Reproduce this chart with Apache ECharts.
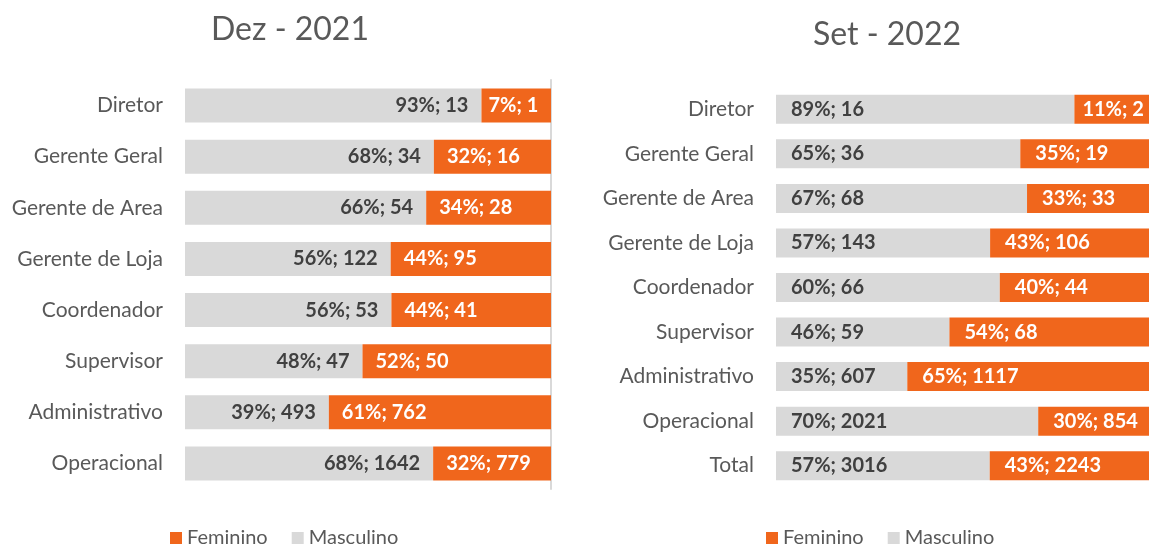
<!DOCTYPE html>
<html>
<head>
<meta charset="utf-8">
<script src="https://cdn.jsdelivr.net/npm/echarts@6/dist/echarts.min.js"></script>
<style>
    html, body { margin: 0; padding: 0; background: #fff; }
    #main { width: 1149px; height: 546px; }
</style>
</head>
<body>
<div id="main"></div>
<script>
/// DATA ///

// Dez - 2021
var cats2021 = ['Diretor', 'Gerente Geral', 'Gerente de Area', 'Gerente de Loja', 'Coordenador', 'Supervisor', 'Administrativo', 'Operacional'];
// bar widths (share of row, %) as drawn
var masc2021 = [81, 68.0, 65.9, 56.2, 56.4, 48.5, 39.3, 67.8];
var fem2021 = [19, 32.0, 34.1, 43.8, 43.6, 51.5, 60.7, 32.2];
// label texts
var mascPct2021 = [93, 68, 66, 56, 56, 48, 39, 68];
var mascN2021 = [13, 34, 54, 122, 53, 47, 493, 1642];
var femPct2021 = [7, 32, 34, 44, 44, 52, 61, 32];
var femN2021 = [1, 16, 28, 95, 41, 50, 762, 779];

// Set - 2022
var cats2022 = ['Diretor', 'Gerente Geral', 'Gerente de Area', 'Gerente de Loja', 'Coordenador', 'Supervisor', 'Administrativo', 'Operacional', 'Total'];
var masc2022 = [80, 65.5, 67.3, 57.4, 60.0, 46.5, 35.2, 70.3, 57.3];
var fem2022 = [20, 34.5, 32.7, 42.6, 40.0, 53.5, 64.8, 29.7, 42.7];
var mascPct2022 = [89, 65, 67, 57, 60, 46, 35, 70, 57];
var mascN2022 = [16, 36, 68, 143, 66, 59, 607, 2021, 3016];
var femPct2022 = [11, 35, 33, 43, 40, 54, 65, 30, 43];
var femN2022 = [2, 19, 33, 106, 44, 68, 1117, 854, 2243];

var ORANGE = '#F0661C';
var GREY = '#D9D9D9';
var FONT = 'Lato, "Open Sans", sans-serif';

// builds "93%; 13" style labels
function labelFn(pcts, counts) {
    return function (p) {
        return pcts[p.dataIndex] + '%; ' + counts[p.dataIndex];
    };
}

// small first (Diretor) segment gets its label pulled closer to the edge
function tightFirst(values, dist) {
    return values.map(function (v, i) {
        return i === 0 ? { value: v, label: { distance: dist } } : v;
    });
}

function catAxis(gridIndex, data) {
    return {
        type: 'category',
        gridIndex: gridIndex,
        data: data,
        inverse: true,
        axisLine: { show: false },
        axisTick: { show: false },
        axisLabel: {
            margin: 22,
            fontFamily: FONT,
            fontSize: 21,
            color: '#595959'
        }
    };
}

function valAxis(gridIndex) {
    return {
        type: 'value',
        gridIndex: gridIndex,
        min: 0,
        max: 100,
        show: false
    };
}

function barSeries(name, xi, yi, values, color, width, pos, dist, labelColor, fmt) {
    return {
        name: name,
        type: 'bar',
        xAxisIndex: xi,
        yAxisIndex: yi,
        stack: 'g' + xi,
        data: values,
        barWidth: width,
        itemStyle: { color: color },
        label: {
            show: true,
            position: pos,
            distance: dist,
            formatter: fmt,
            fontFamily: FONT,
            fontWeight: 'bold',
            fontSize: 20,
            color: labelColor
        },
        emphasis: { disabled: true },
        animation: false
    };
}

var chart = echarts.init(document.getElementById('main'));

var legendBase = {
    data: ['Feminino', 'Masculino'],
    icon: 'rect',
    itemWidth: 12,
    itemHeight: 12,
    itemGap: 24,
    top: 523,
    textStyle: { fontFamily: FONT, fontSize: 20, color: '#595959' }
};

var options = {
    title: [
        {
            text: 'Dez - 2021', left: 285, top: 9, textAlign: 'center',
            textStyle: { fontFamily: FONT, fontWeight: 'normal', fontSize: 32, color: '#595959' }
        },
        {
            text: 'Set - 2022', left: 882, top: 14, textAlign: 'center',
            textStyle: { fontFamily: FONT, fontWeight: 'normal', fontSize: 32, color: '#595959' }
        }
    ],
    legend: [
        Object.assign({}, legendBase, { left: 165 }),
        Object.assign({}, legendBase, { left: 761 })
    ],
    grid: [
        { left: 185, width: 366, top: 80, height: 409 },
        { left: 776, width: 376, top: 87, height: 401 }
    ],
    xAxis: [valAxis(0), valAxis(1)],
    yAxis: [
        catAxis(0, cats2021),
        catAxis(1, cats2022),
        // light separator line on the right of the 2021 bars
        {
            type: 'category',
            gridIndex: 0,
            data: cats2021,
            position: 'right',
            axisLine: { show: true, lineStyle: { color: '#D9D9D9', width: 2 } },
            axisTick: { show: false },
            axisLabel: { show: false }
        }
    ],
    series: [
        barSeries('Masculino', 0, 0, masc2021, GREY, 34, 'insideRight', 13, '#404040', labelFn(mascPct2021, mascN2021)),
        barSeries('Feminino', 0, 0, tightFirst(fem2021, 7), ORANGE, 34, 'insideLeft', 13, '#ffffff', labelFn(femPct2021, femN2021)),
        barSeries('Masculino', 1, 1, masc2022, GREY, 29, 'insideLeft', 15, '#404040', labelFn(mascPct2022, mascN2022)),
        barSeries('Feminino', 1, 1, tightFirst(fem2022, 8), ORANGE, 29, 'insideLeft', 15, '#ffffff', labelFn(femPct2022, femN2022))
    ]
};

chart.setOption(options);
</script>
</body>
</html>
